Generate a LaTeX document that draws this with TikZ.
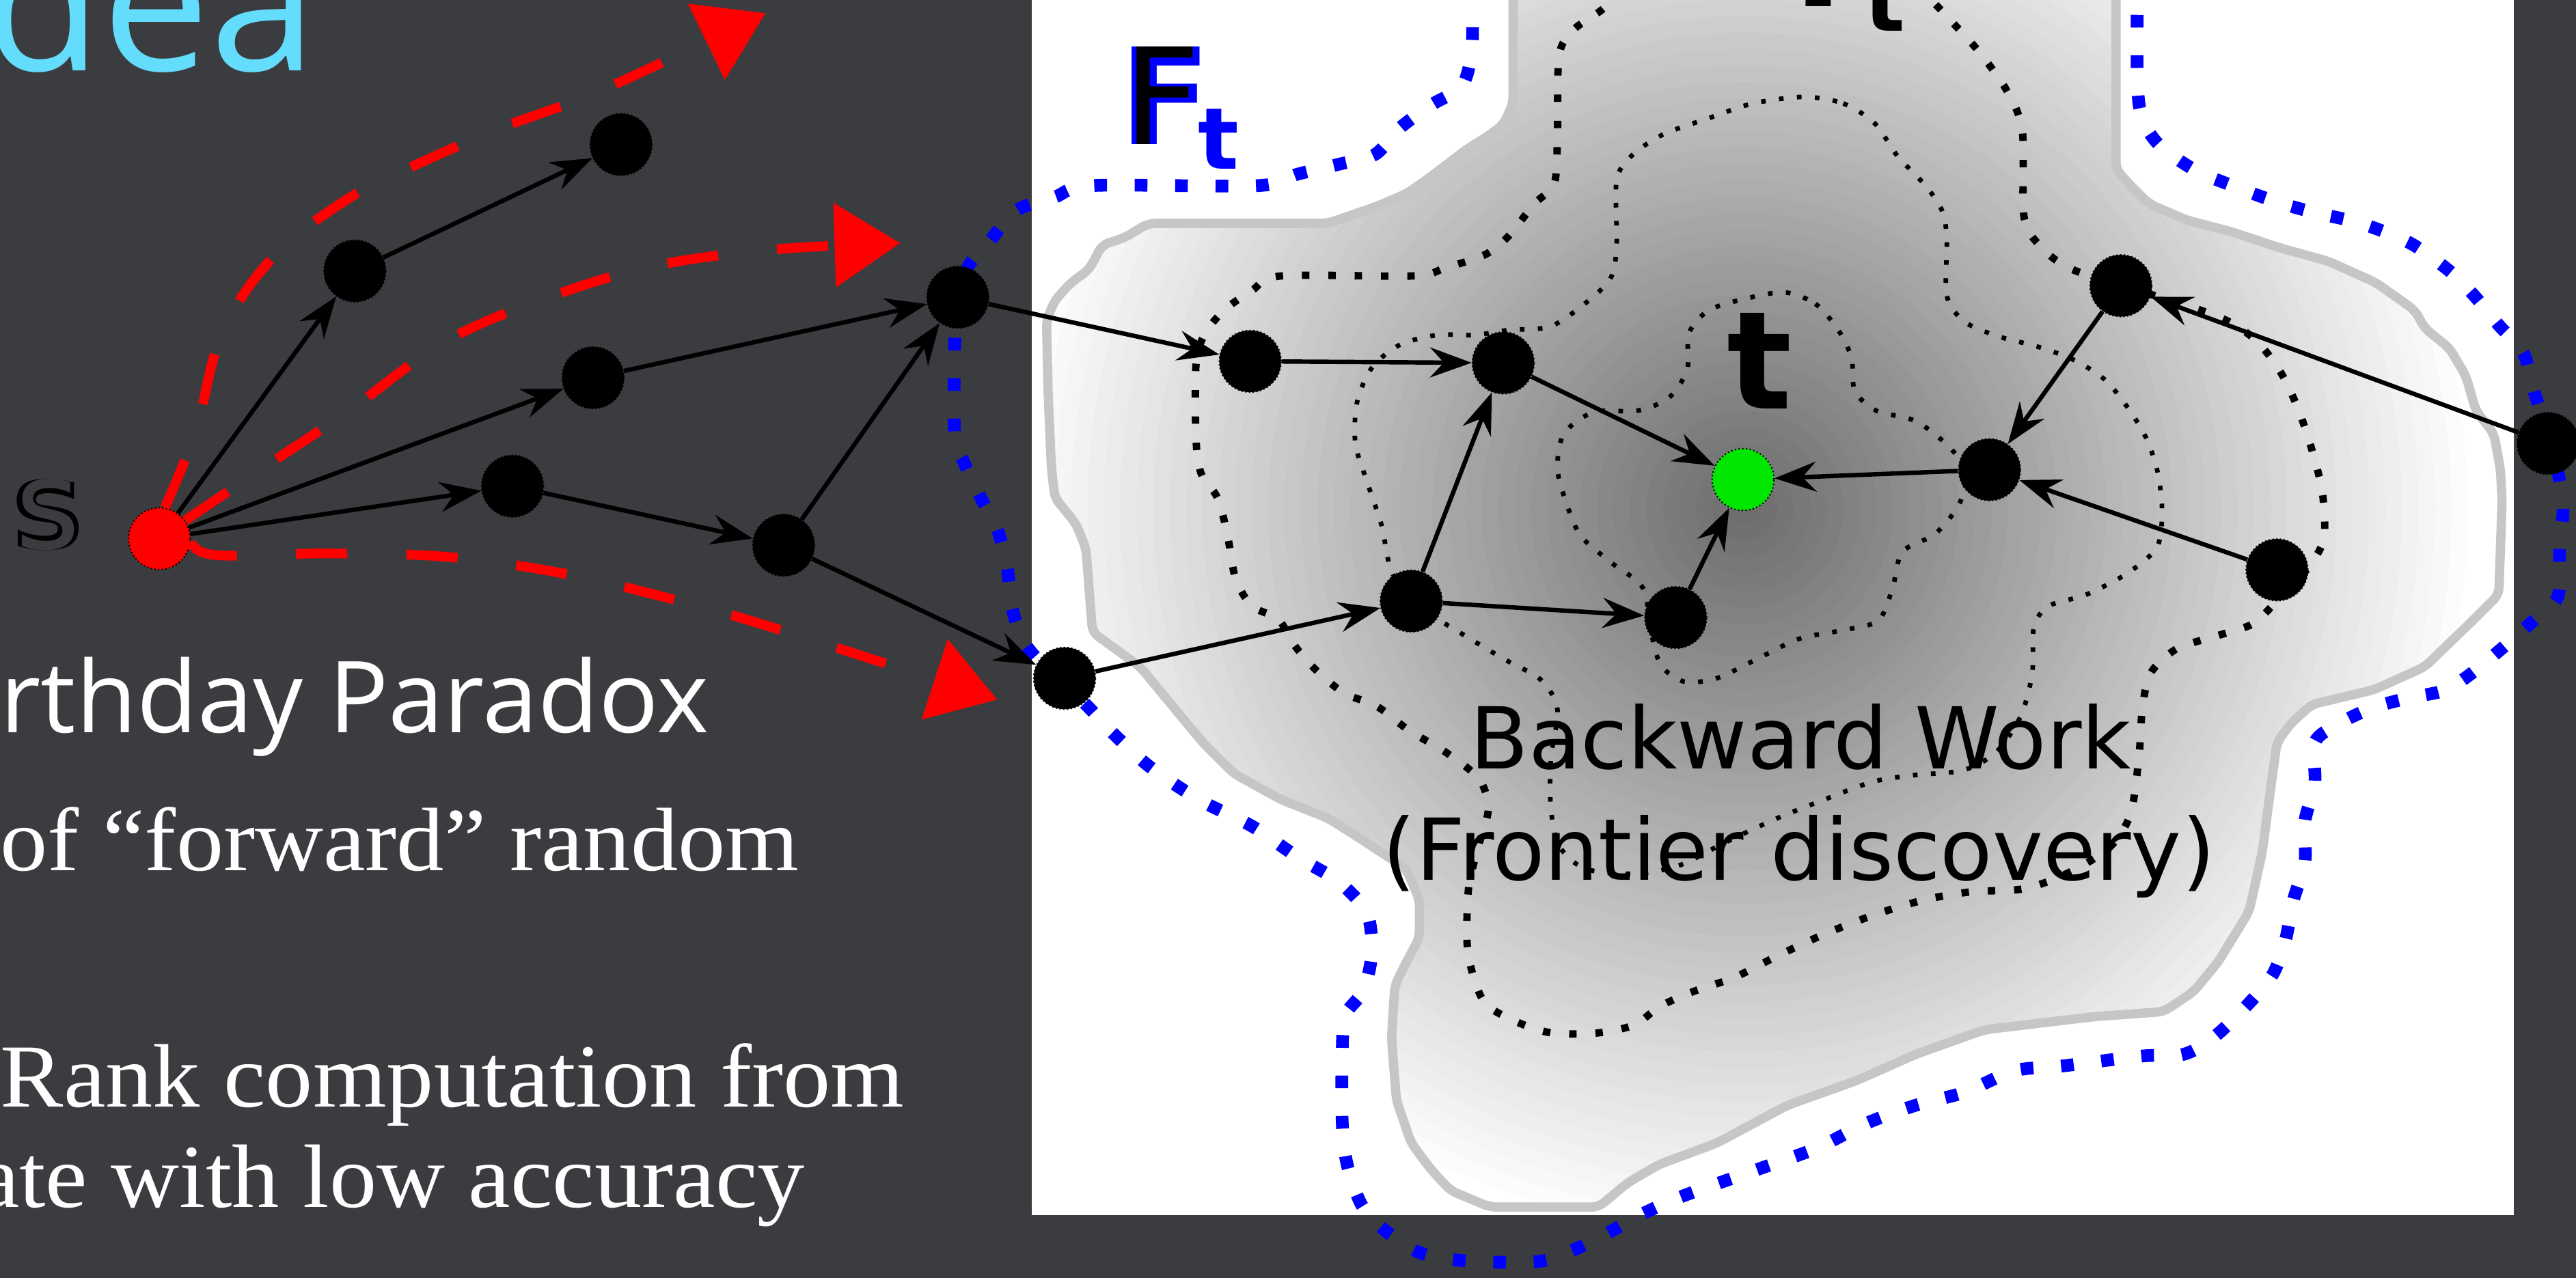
\documentclass[tikz,border=0pt]{standalone}
\usepackage{fontspec}
\usetikzlibrary{arrows.meta}
\newfontfamily\dejavu{DejaVu Sans}
\newfontfamily\opensans{Open Sans}
\newfontfamily\slideserif[FakeStretch=1.05]{Liberation Serif}
\definecolor{slate}{HTML}{3B3C40}
\definecolor{sky}{HTML}{63DDFB}
\definecolor{rim}{HTML}{C6C6C6}
\definecolor{core}{HTML}{6E6E6E}
\definecolor{walkred}{HTML}{FF0000}
\definecolor{hit}{HTML}{00E600}
\definecolor{front}{HTML}{0000FF}

\begin{document}
\begin{tikzpicture}[x=0.025cm,y=-0.025cm,>={Stealth[length=18pt,width=13pt,inset=6pt]},
  vtx/.style={circle,fill=black,draw=black,densely dotted,line width=.6pt,
    minimum size=.94cm,inner sep=0pt},
  hop/.style={->,line width=1.9pt,solid},
  walkarrow/.style={walkred,line width=4.2pt,dash pattern=on .78cm off .9cm,
    -{Triangle[length=1cm,width=1.25cm]}},
  targetring/.style={line width=3.2pt,dash pattern=on 3.2pt off 8.2pt},
  innerring/.style={line width=2pt,dash pattern=on 2pt off 5.8pt},
  frontierring/.style={front,line width=5.5pt,dash pattern=on 5.5pt off 12pt},
  lab/.style={inner sep=0pt,anchor=base west},
  slidetext/.style={lab,text=white,font=\slideserif\fontsize{39}{39}\selectfont}]
  \useasboundingbox (0,0) rectangle (1568,778);
  \clip (0,0) rectangle (1568,778);
  \fill[slate] (0,0) rectangle (1568,778);
  \fill[white] (628,0) rectangle (1530,740);

  % target set, shaded from the target outwards
  \draw[rim,line width=4pt,rounded corners=3pt,
    path picture={
      \foreach \k in {0,...,44}{
        \pgfmathsetmacro{\pct}{100*\k/44}
        \fill[core!\pct!white] (1062,310) circle ({450-10*\k});
      }}]
    (921,-8) -- (921,63) -- (915,76) -- (904,84) -- (894,90) -- (869,109) -- (856,118)
    -- (837,126) -- (808,136) -- (699,136) -- (684,145) -- (671,149) -- (663,164)
    -- (652,172) -- (642,183) -- (637,195) -- (638,240) -- (640,285) -- (642,303)
    -- (655,319) -- (661,334) -- (665,385) -- (694,406) -- (713,429) -- (732,452)
    -- (751,471) -- (780,487) -- (808,498) -- (827,510) -- (856,529) -- (864,548)
    -- (864,571) -- (856,586) -- (849,600) -- (847,632) -- (850,670) -- (859,696)
    -- (871,712) -- (883,725) -- (907,735) -- (973,735) -- (991,720) -- (1010,709)
    -- (1045,696) -- (1088,673) -- (1130,658) -- (1166,642) -- (1208,627) -- (1275,619)
    -- (1317,616) -- (1335,604) -- (1350,586) -- (1369,555) -- (1377,519) -- (1382,481)
    -- (1386,452) -- (1394,441) -- (1407,429) -- (1445,420) -- (1476,406) -- (1507,376)
    -- (1521,362) -- (1523,305) -- (1522,286) -- (1518,264) -- (1507,250) -- (1501,229)
    -- (1491,212) -- (1476,200) -- (1470,189) -- (1446,172) -- (1417,159) -- (1388,151)
    -- (1358,141) -- (1331,134) -- (1308,124) -- (1295,111) -- (1288,103) -- (1288,-8)
    -- cycle;

  \node[lab,font=\dejavu\bfseries\fontsize{58}{58}\selectfont] (tset) at (1079,4)
    {T\raisebox{-.37cm}{\fontsize{37}{37}\selectfont t}};
  \node[lab,text=black,font=\dejavu\fontsize{58}{58}\selectfont] (fset) at (681,88)
    {\rlap{\textcolor{front}{\bfseries F}}\kern.035em F\kern-.02em%
     \raisebox{-.37cm}{\fontsize{37}{37}\selectfont\bfseries\textcolor{front}{t}}};
  \node[inner sep=0pt,anchor=base,font=\dejavu\fontsize{37}{37}\selectfont] (work)
    at (1096,468) {Backward Work};
  \node[inner sep=0pt,anchor=base,font=\dejavu\fontsize{37}{37}\selectfont] (disc)
    at (1095,536) {(Frontier discovery)};

  % level sets around t
  \draw[targetring] plot[smooth,tension=.5] coordinates {
    (987,-6) (975,6) (958,18) (949,34) (948,84) (946,112) (934,124) (918,144) (904,155)
    (880,163) (860,168) (780,168) (762,177) (745,189) (733,204) (728,222) (728,267)
    (731,288) (741,303) (747,325) (752,352) (762,369) (778,377) (788,393) (800,407)
    (818,422) (838,430) (858,445) (880,458) (900,474) (906,492) (900,515) (894,540)
    (893,574) (897,595) (905,612) (925,623) (945,629) (972,629) (995,624) (1010,613)
    (1030,604) (1056,595) (1082,582) (1110,569) (1141,557) (1171,548) (1200,543)
    (1233,541) (1262,530) (1285,515) (1297,495) (1302,460) (1304,432) (1309,410)
    (1325,395) (1350,387) (1371,380) (1384,368) (1400,352) (1414,330) (1414,303)
    (1409,280) (1400,252) (1389,228) (1374,208) (1355,195) (1325,184) (1291,174)
    (1259,163) (1242,150) (1232,132) (1231,80) (1222,56) (1205,32) (1186,11) (1170,-6)};
  \draw[innerring] plot[smooth cycle,tension=.5] coordinates {
    (1098,59) (1122,63) (1141,75) (1155,95) (1172,113) (1182,128) (1185,145) (1185,180)
    (1196,196) (1217,205) (1240,211) (1262,219) (1281,231) (1295,248) (1306,266)
    (1313,286) (1316,310) (1313,333) (1295,349) (1270,362) (1247,369) (1238,382)
    (1237,410) (1230,436) (1215,458) (1195,469) (1165,472) (1140,476) (1110,487)
    (1080,499) (1050,513) (1022,527) (995,532) (965,529) (949,515) (944,492) (944,462)
    (948,432) (938,414) (915,401) (890,386) (870,373) (848,350) (841,320) (832,293)
    (825,270) (826,245) (835,224) (852,210) (875,204) (898,204) (918,201) (943,199)
    (962,187) (980,170) (984,150) (984,110) (993,95) (1012,82) (1040,72) (1067,63)};
  \draw[innerring] plot[smooth cycle,tension=.5] coordinates {
    (1086,178) (1105,185) (1119,201) (1127,218) (1129,238) (1142,250) (1165,256)
    (1182,268) (1196,285) (1193,306) (1178,325) (1158,336) (1152,358) (1143,378)
    (1120,384) (1095,389) (1070,401) (1045,413) (1025,415) (1011,405) (1005,385)
    (1000,358) (980,342) (962,326) (953,305) (948,285) (952,264) (970,251) (997,250)
    (1016,242) (1027,225) (1028,203) (1040,189) (1062,182)};

  % frontier
  \draw[frontierring] plot[smooth,tension=.5] coordinates {
    (896,-8) (896,29) (890,52) (871,64) (852,78) (837,94) (815,100) (790,106) (766,113)
    (665,113) (642,120) (619,128) (603,146) (589,163) (582,190) (581,263) (587,282)
    (597,303) (607,322) (613,345) (616,370) (624,392) (640,410) (660,428) (678,447)
    (700,467) (730,487) (762,503) (790,522) (815,537) (832,556) (835,580) (830,603)
    (819,618) (817,640) (817,683) (820,709) (829,734) (844,750) (865,763) (895,768)
    (937,768) (958,761) (980,750) (1000,739) (1025,728) (1070,712) (1106,699) (1136,684)
    (1166,673) (1196,665) (1226,652) (1256,649) (1304,643) (1329,642) (1347,632)
    (1366,614) (1383,594) (1391,573) (1396,548) (1403,525) (1403,500) (1409,477)
    (1409,452) (1423,441) (1444,431) (1466,425) (1489,420) (1507,408) (1525,393)
    (1542,378) (1557,363) (1558,334) (1560,306) (1553,270) (1543,240) (1536,215)
    (1521,198) (1506,180) (1491,165) (1467,148) (1437,136) (1407,129) (1383,122)
    (1356,112) (1335,103) (1314,88) (1304,72) (1301,50) (1301,-8)};

  % walk graph
  \node[vtx,fill=walkred] (s) at (97,328) {};
  \node[vtx] (u1) at (216,165) {};
  \node[vtx] (u2) at (378,88) {};
  \node[vtx] (u3) at (361,230) {};
  \node[vtx] (u4) at (312,296) {};
  \node[vtx] (u5) at (477,332) {};
  \node[vtx] (u6) at (583,181) {};
  \node[vtx] (u7) at (648,413) {};
  \node[vtx] (v1) at (761,220) {};
  \node[vtx] (v2) at (915,221) {};
  \node[vtx] (v3) at (859,366) {};
  \node[vtx] (v4) at (1020,376) {};
  \node[vtx,fill=hit] (t) at (1061,292) {};
  \node[vtx] (v5) at (1211,286) {};
  \node[vtx] (v6) at (1291,174) {};
  \node[vtx] (v7) at (1386,347) {};
  \node[vtx] (v8) at (1551,270) {};

  \foreach \a/\b in {s/u1,u1/u2,s/u3,u3/u6,s/u4,u4/u5,u5/u6,u5/u7,u6/v1,u7/v3,
      v1/v2,v3/v2,v3/v4,v2/t,v4/t,v5/t,v6/v5,v7/v5,v8/v6}
    \draw[hop] (\a) -- (\b);

  \coordinate (w1) at (466,8);
  \coordinate (w2) at (548,148);
  \coordinate (w3) at (607,426);
  \draw[walkarrow] plot[smooth,tension=.6] coordinates {
    (s.80) (119,263) (131,215) (147,181) (175,148) (215,119) (243,105) (302,79)
    (366,55) (w1)};
  \draw[walkarrow] plot[smooth,tension=.6] coordinates {
    (s.35) (151,291) (211,251) (271,208) (334,181) (398,162) (470,152) (w2)};
  \draw[walkarrow] plot[smooth,tension=.6] coordinates {
    (s.-5) (131,338) (199,337) (271,339) (342,349) (410,365) (470,382) (w3)};

  \node[lab,font=\dejavu\bfseries\fontsize{59}{59}\selectfont] (tname) at (1051,249) {t};
  \node[lab,anchor=base,font=\dejavu\fontsize{54}{54}\selectfont] (sname)
    at (29,334) {\clap{\bfseries s}\clap{\textcolor{slate}{s}}};

  % slide text
  \node[lab,anchor=base east,text=sky,font=\opensans\fontsize{83}{83}\selectfont]
    (title) at (193,43) {Idea};
  \node[lab,text=white,font=\opensans\fontsize{43}{43}\selectfont] (para)
    at (0,446) {rthday Paradox};
  \node[slidetext] (line1) at (0,530) {of “forward” random};
  \node[slidetext] (line2) at (0,674) {Rank computation from};
  \node[slidetext] (line3) at (-14,735) {ate with low accuracy};
\end{tikzpicture}
\end{document}
